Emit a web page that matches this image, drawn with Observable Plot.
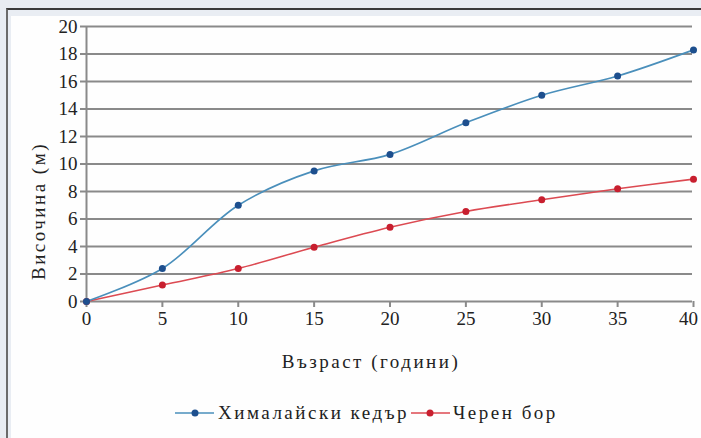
<!DOCTYPE html>
<html>
<head>
<meta charset="utf-8">
<script src="https://cdn.jsdelivr.net/npm/d3@7"></script>
<script src="https://cdn.jsdelivr.net/npm/@observablehq/plot@0.6"></script>
<style>
  html, body { margin: 0; padding: 0; width: 701px; height: 438px; overflow: hidden; background: #e8ecf2; }
  #panel { position: absolute; left: 6px; top: 8px; width: 720px; height: 460px; border-top: 2px solid #3a3a3a; border-left: 2px solid #6a6a6a; background: #e9edf3; }
  #inner { position: absolute; left: 3px; top: 6px; right: 0; bottom: 0; background: #fefefe; }
  #chart { position: absolute; left: 0; top: 0; }
</style>
</head>
<body>
<div id="panel"><div id="inner"></div></div>
<div id="chart"></div>
<script>
const ages = [0, 5, 10, 15, 20, 25, 30, 35, 40];
const cedar = [0, 2.4, 7.0, 9.5, 10.7, 13.0, 15.0, 16.4, 18.3];
const pine = [0, 1.2, 2.4, 3.95, 5.4, 6.55, 7.4, 8.2, 8.9];
const seriesNames = ["Хималайски кедър", "Черен бор"];
const lineColors = ["#4a8fbb", "#dc4a52"];
const dotColors = ["#1d4f8e", "#c81f2f"];
const xTicks = [0, 5, 10, 15, 20, 25, 30, 35, 40];
const yTicks = [0, 2, 4, 6, 8, 10, 12, 14, 16, 18, 20];
const xLabel = "Възраст (години)";
const yLabel = "Височина (м)";

const cedarData = ages.map((a, i) => ({age: a, h: cedar[i]}));
const pineData = ages.map((a, i) => ({age: a, h: pine[i]}));

const grid = "#8a8a8a";
const W = 701, H = 438;
const FONT = "'Liberation Serif', serif";
const LS = 2.5;
const lastX = xTicks[xTicks.length - 1];

const chart = Plot.plot({
  width: W,
  height: H,
  marginLeft: 86,
  marginRight: 8,
  marginTop: 26,
  marginBottom: H - 301,
  style: {fontFamily: "Liberation Serif", fontSize: "19px", background: "transparent", color: "#222"},
  x: {domain: [0, 40]},
  y: {domain: [0, 20]},
  marks: [
    Plot.ruleY(yTicks, {stroke: grid, strokeWidth: 2, insetRight: 1}),
    Plot.axisY({ticks: yTicks, tickSize: 6, tickPadding: 3, stroke: grid, strokeWidth: 2, label: null, fill: "#222"}),
    Plot.axisX({ticks: xTicks, tickSize: 6, tickPadding: 4, stroke: grid, strokeWidth: 2, label: null, fill: "#222",
      tickFormat: d => d === lastX ? "" : String(d)}),
    Plot.text([lastX], {x: d => d, frameAnchor: "bottom", lineAnchor: "top", dy: 10, dx: -5, text: d => String(d), fill: "#222"}),
    Plot.ruleX([0], {stroke: grid, strokeWidth: 2}),
    Plot.line(pineData, {x: "age", y: "h", stroke: lineColors[1], strokeWidth: 1.6, curve: "catmull-rom"}),
    Plot.line(cedarData, {x: "age", y: "h", stroke: lineColors[0], strokeWidth: 1.6, curve: "catmull-rom"}),
    Plot.dot(pineData, {x: "age", y: "h", fill: dotColors[1], r: 3.5}),
    Plot.dot(cedarData, {x: "age", y: "h", fill: dotColors[0], r: 3.5})
  ]
});
document.getElementById("chart").appendChild(chart);

const svg = d3.select(chart);
svg.append("text")
  .attr("x", 371).attr("y", 368)
  .attr("text-anchor", "middle")
  .attr("font-size", 19).attr("fill", "#222")
  .attr("letter-spacing", LS)
  .text(xLabel);
svg.append("text")
  .attr("transform", "translate(45,211) rotate(-90)")
  .attr("text-anchor", "middle")
  .attr("font-size", 19).attr("fill", "#222")
  .attr("letter-spacing", LS)
  .text(yLabel);

const legend = [
  {x0: 175, x1: 214, dot: 195, tx: 218},
  {x0: 411, x1: 450, dot: 430, tx: 453}
];
legend.forEach((l, i) => {
  const g = svg.append("g");
  g.append("line").attr("x1", l.x0).attr("x2", l.x1).attr("y1", 413).attr("y2", 413)
    .attr("stroke", lineColors[i]).attr("stroke-width", 1.6);
  g.append("circle").attr("cx", l.dot).attr("cy", 413).attr("r", 3.5).attr("fill", dotColors[i]);
  g.append("text").attr("x", l.tx).attr("y", 419).attr("text-anchor", "start")
    .attr("font-size", 19).attr("fill", "#222")
    .attr("letter-spacing", LS)
    .text(seriesNames[i]);
});

svg.selectAll("text").each(function() {
  this.setAttribute("font-family", FONT);
});
</script>
</body>
</html>
